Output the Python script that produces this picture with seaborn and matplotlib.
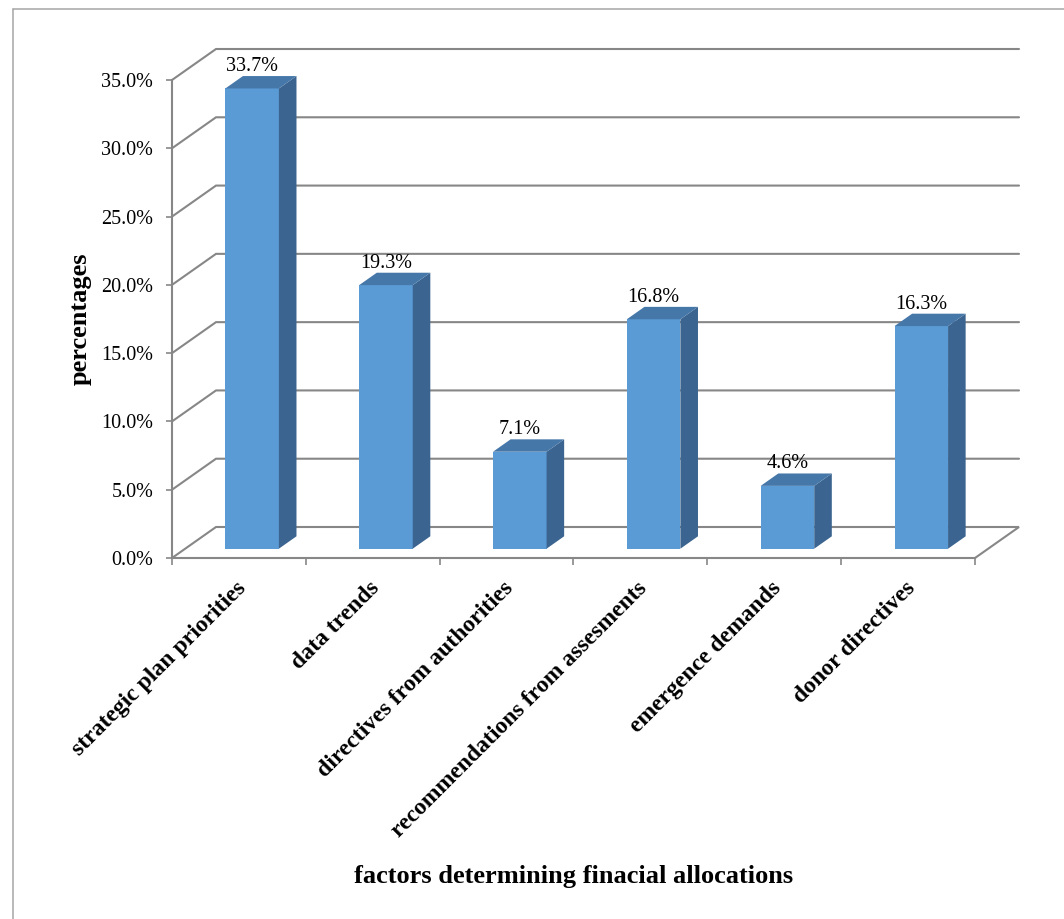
import matplotlib
matplotlib.use("Agg")
import matplotlib.pyplot as plt
from matplotlib.patches import Polygon
from matplotlib.lines import Line2D
from matplotlib.ticker import FuncFormatter, MultipleLocator, FixedLocator
from matplotlib.transforms import ScaledTranslation
import seaborn as sns

# ---- data -------------------------------------------------------------
factors = [
    "strategic plan priorities",
    "data trends",
    "directives from authorities",
    "recommendations from assesments",
    "emergence demands",
    "donor directives",
]
percentages = [33.7, 19.3, 7.1, 16.8, 4.6, 16.3]
y_ticks = [0, 5, 10, 15, 20, 25, 30, 35]
x_title = "factors determining finacial allocations"
y_title = "percentages"

# ---- style ------------------------------------------------------------
sns.set_style("white")
plt.rcParams["font.family"] = ["Liberation Serif", "DejaVu Serif"]
plt.rcParams["text.color"] = "black"
plt.rcParams["axes.labelcolor"] = "black"
plt.rcParams["xtick.labelcolor"] = "black"
plt.rcParams["ytick.labelcolor"] = "black"

FRONT = "#5B9BD5"
SIDE = "#3B6590"
TOP = "#4677A9"
GRID = "#878787"

W, H, DPI = 1064, 919, 100
fig = plt.figure(figsize=(W / DPI, H / DPI), dpi=DPI)
fig.patch.set_facecolor("white")

# front plane of the 3-D box (pixel frame of the plot area)
left_px, right_px, bottom_px, top_px = 172, 975, 558, 80
ax = fig.add_axes([left_px / W, (H - bottom_px) / H,
                   (right_px - left_px) / W, (bottom_px - top_px) / H])

sns.barplot(x=factors, y=percentages, ax=ax, color=FRONT, width=0.4,
            saturation=1, edgecolor="none", zorder=3)

n = len(factors)
ax.set_xlim(-0.5, n - 0.5)
ax.set_ylim(0, 35)

# depth vector of the box (pixels) converted to data units
px_per_x = (right_px - left_px) / n
px_per_y = (bottom_px - top_px) / 35.0
depth_x = 44 / px_per_x
depth_y = 31 / px_per_y

# back wall + left side wall gridlines and floor
for t in y_ticks:
    xs = [-0.5, -0.5 + depth_x, n - 0.5 + depth_x]
    ys = [t, t + depth_y, t + depth_y]
    if t == 0:
        xs.append(n - 0.5)
        ys.append(0)
    ax.add_line(Line2D(xs, ys, color=GRID, lw=1.5, zorder=1,
                       clip_on=False, solid_joinstyle="miter"))

# bars sit in the middle of the box depth; add side and top faces
f0, fd = 0.3, 0.4
ddx, ddy = fd * depth_x, fd * depth_y
container = ax.containers[0]
for patch in container.patches:
    x0 = patch.get_x() + f0 * depth_x
    w = patch.get_width()
    h = patch.get_height()
    b = f0 * depth_y
    patch.set_x(x0)
    patch.set_y(b)
    patch.set_clip_on(False)
    x1 = x0 + w
    side = Polygon([(x1, b), (x1 + ddx, b + ddy), (x1 + ddx, b + h + ddy), (x1, b + h)],
                   closed=True, facecolor=SIDE, edgecolor="none", zorder=3,
                   clip_on=False)
    top = Polygon([(x0, b + h), (x1, b + h), (x1 + ddx, b + h + ddy), (x0 + ddx, b + h + ddy)],
                  closed=True, facecolor=TOP, edgecolor="none", zorder=3,
                  clip_on=False)
    ax.add_patch(side)
    ax.add_patch(top)

ax.bar_label(container, labels=[f"{v:.1f}%" for v in percentages],
             padding=9, fontsize=14.5, color="black")

# axes, ticks and labels
for s in ["top", "right"]:
    ax.spines[s].set_visible(False)
for s in ["left", "bottom"]:
    ax.spines[s].set_color(GRID)
    ax.spines[s].set_linewidth(1.5)
    ax.spines[s].set_zorder(2)

ax.yaxis.set_major_locator(FixedLocator(y_ticks))
ax.yaxis.set_major_formatter(FuncFormatter(lambda v, p: f"{v:.1f}%"))
ax.tick_params(axis="y", which="major", direction="out", length=4.5, width=1.2,
               color=GRID, labelsize=14.5, labelcolor="black", pad=9, left=True)

ax.set_xticks(range(n))
ax.set_xticklabels(factors, rotation=45, ha="right", va="center",
                   rotation_mode="anchor", fontweight="bold", fontsize=17,
                   color="black")
ax.tick_params(axis="x", which="major", length=0, pad=19.5, bottom=True)
shift = ScaledTranslation(4 / DPI, 0, fig.dpi_scale_trans)
for lbl in ax.get_xticklabels():
    lbl.set_transform(lbl.get_transform() + shift)
ax.xaxis.set_minor_locator(MultipleLocator(1, offset=0.5))
ax.tick_params(axis="x", which="minor", direction="out", length=5, width=1.2,
               color=GRID, bottom=True)

ax.set_xlabel(x_title, fontsize=19, fontweight="bold", color="black")
ax.set_ylabel(y_title, fontsize=19, fontweight="bold", color="black")
ax.xaxis.set_label_coords(0.5, -(877 - bottom_px) / (bottom_px - top_px), transform=ax.transAxes)
ax.yaxis.set_label_coords(-(left_px - 80) / (right_px - left_px), 0.5, transform=ax.transAxes)
ax.xaxis.label.set_va("center")
ax.yaxis.label.set_va("center")

# chart area border (runs off the right and bottom edges)
fig.add_artist(Line2D([13 / W, 13 / W], [0, (H - 9) / H], color="#A6A6A6",
                      lw=1.1, transform=fig.transFigure))
fig.add_artist(Line2D([13 / W, 1.0], [(H - 9) / H, (H - 9) / H], color="#A6A6A6",
                      lw=1.1, transform=fig.transFigure))

fig.savefig("out.png", dpi=DPI, facecolor="white")
